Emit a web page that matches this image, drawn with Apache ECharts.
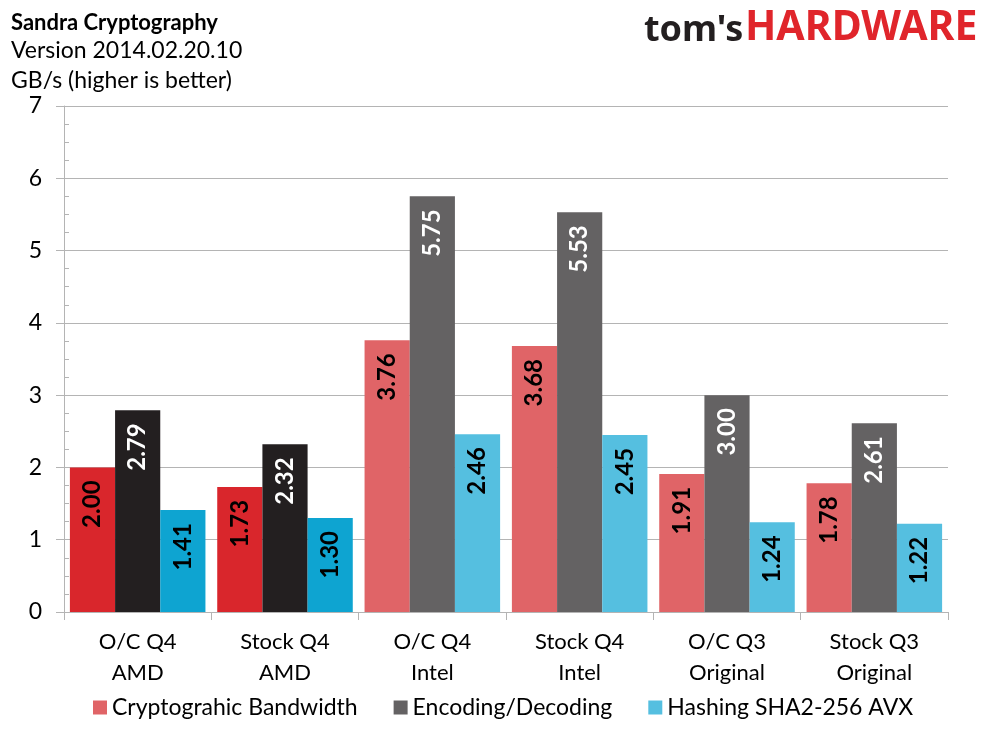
<!DOCTYPE html>
<html>
<head>
<meta charset="utf-8">
<script src="https://cdn.jsdelivr.net/npm/echarts@6/dist/echarts.min.js"></script>
<style>
html, body { margin: 0; padding: 0; background: #fff; }
#chart { width: 989px; height: 742px; }
</style>
</head>
<body>
<div id="chart"></div>
<script>
var categories = ['O/C Q4\nAMD', 'Stock Q4\nAMD', 'O/C Q4\nIntel', 'Stock Q4\nIntel', 'O/C Q3\nOriginal', 'Stock Q3\nOriginal'];
var seriesNames = ['Cryptograhic Bandwidth', 'Encoding/Decoding', 'Hashing SHA2-256 AVX'];
var cryptoBandwidth = [2.00, 1.73, 3.76, 3.68, 1.91, 1.78];
var encodingDecoding = [2.79, 2.32, 5.75, 5.53, 3.00, 2.61];
var hashingSha = [1.41, 1.30, 2.46, 2.45, 1.24, 1.22];
// the two AMD groups are drawn in stronger colours
var highlighted = [0, 1];

var lightColors = ['#e06467', '#646263', '#55bfe0'];
var darkColors = ['#d9262c', '#231f20', '#0ea4d1'];
var labelColors = ['#000', '#fff', '#000'];

var font = 'Lato, "Open Sans", sans-serif';

function makeSeries(idx, values) {
	var data = [];
	for (var i = 0; i < values.length; i++) {
		var item = { value: values[i] };
		if (highlighted.indexOf(i) >= 0) {
			item.itemStyle = { color: darkColors[idx] };
		}
		data.push(item);
	}
	return {
		name: seriesNames[idx],
		type: 'bar',
		barGap: '0%',
		barCategoryGap: '8%',
		itemStyle: { color: lightColors[idx] },
		data: data,
		label: {
			show: true,
			position: 'insideTop',
			distance: 13,
			rotate: 90,
			align: 'right',
			verticalAlign: 'middle',
			color: labelColors[idx],
			fontFamily: font,
			fontWeight: 'bold',
			fontSize: 24,
			formatter: function (p) { return p.value.toFixed(2); }
		}
	};
}

var myChart = echarts.init(document.getElementById('chart'));
var option = {
	animation: false,
	backgroundColor: '#fff',
	textStyle: { fontFamily: font },
	title: {
		text: 'Sandra Cryptography',
		subtext: 'Version 2014.02.20.10\nGB/s (higher is better)',
		left: 6,
		top: 3,
		itemGap: -2,
		textStyle: { fontFamily: font, fontSize: 22, fontWeight: 'bold', color: '#000', lineHeight: 30 },
		subtextStyle: { fontFamily: font, fontSize: 23, color: '#000', lineHeight: 30 }
	},
	graphic: [
		{
			type: 'text', left: 644, top: 13,
			style: { text: "tom's", font: 'bold 36px "Noto Sans", sans-serif', fill: '#231f20' }
		},
		{
			type: 'text', left: 745, top: 8,
			style: { text: 'HARDWARE', font: 'bold 41px "Noto Sans", sans-serif', fill: '#e0252b' }
		}
	],
	legend: {
		data: seriesNames,
		bottom: 18,
		left: 88,
		itemWidth: 14,
		itemHeight: 14,
		itemGap: 36,
		icon: 'rect',
		textStyle: { fontFamily: font, fontSize: 23, color: '#000' }
	},
	grid: { left: 64, right: 41, top: 106, bottom: 130, containLabel: false },
	xAxis: {
		type: 'category',
		data: categories,
		axisLine: { lineStyle: { color: '#b4b4b4', width: 1 } },
		axisTick: { show: true, length: 8, interval: 0, lineStyle: { color: '#b4b4b4' } },
		axisLabel: { interval: 0, margin: 14, fontFamily: font, fontSize: 22, lineHeight: 31, color: '#000' }
	},
	yAxis: [
		{
			type: 'value',
			min: 0, max: 7, interval: 1,
			axisLine: { show: true, lineStyle: { color: '#b4b4b4' } },
			axisTick: { show: true, length: 8, lineStyle: { color: '#b4b4b4' } },
			splitLine: { show: true, lineStyle: { color: '#b4b4b4' } },
			axisLabel: { margin: 22, fontFamily: font, fontSize: 23, color: '#000' }
		},
		{
			type: 'value',
			position: 'left',
			min: 0, max: 7, interval: 1,
			axisLine: { show: false },
			axisTick: { show: false, inside: true },
			minorTick: { show: true, splitNumber: 4, length: 5, lineStyle: { color: '#b4b4b4' } },
			splitLine: { show: false },
			axisLabel: { show: false }
		}
	],
	series: [
		makeSeries(0, cryptoBandwidth),
		makeSeries(1, encodingDecoding),
		makeSeries(2, hashingSha)
	]
};
myChart.setOption(option);
</script>
</body>
</html>
